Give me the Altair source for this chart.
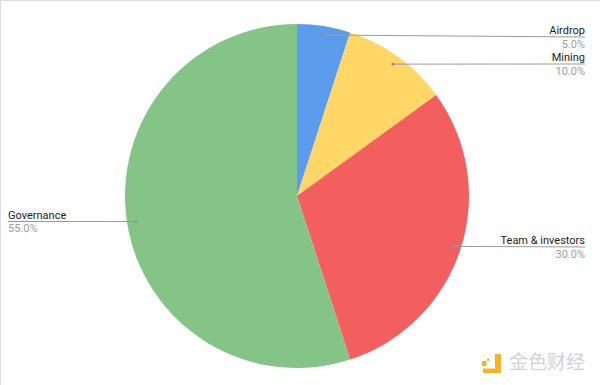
import math

import altair as alt
import pandas as pd

# ---- data -----------------------------------------------------------------
categories = ["Airdrop", "Mining", "Team & investors", "Governance"]
shares = [5.0, 10.0, 30.0, 55.0]

# ---- styling / layout -------------------------------------------------------
slice_colors = ["#5b9cec", "#ffd766", "#f35f5f", "#84c587"]
W, H = 600, 385
CX, CY, R = 297, 196, 172          # pie centre and radius (px)
ANCHOR_R = 163                      # where leader lines start inside a slice
label_side = ["right", "right", "right", "left"]
label_line_y = [37, 64, 247, 221.5]
RIGHT_X, LEFT_X = 585, 8

# leader-line anchors sit at the middle angle of each slice
rows = []
cum = 0.0
for i, (cat, v) in enumerate(zip(categories, shares)):
    mid = math.radians((cum + v / 2) / sum(shares) * 360)
    cum += v
    end_x = RIGHT_X if label_side[i] == "right" else LEFT_X
    rows.append(
        dict(
            idx=i,
            category=cat,
            share=v,
            pct=f"{v:.1f}%",
            side=label_side[i],
            ax=CX + ANCHOR_R * math.sin(mid),
            ay=CY - ANCHOR_R * math.cos(mid),
            ex=end_x,
            ey=label_line_y[i],
            name_y=label_line_y[i] - 3,
            pct_y=label_line_y[i] + 10.5,
        )
    )
df = pd.DataFrame(rows)

xs = alt.Scale(domain=[0, W], range=[0, W], nice=False, zero=False)
ys = alt.Scale(domain=[0, H], range=[0, H], nice=False, zero=False)

base = alt.Chart(df)

pie = base.mark_arc(radius=R, stroke=None).encode(
    theta=alt.Theta("share:Q", stack=True),
    color=alt.Color(
        "category:N",
        scale=alt.Scale(domain=categories, range=slice_colors),
        legend=None,
    ),
    order=alt.Order("idx:Q"),
    x=alt.value(CX),
    y=alt.value(CY),
)

leaders = base.mark_rule(color="#9a9a9a", strokeWidth=1).encode(
    x=alt.X("ax:Q", scale=xs, axis=None),
    y=alt.Y("ay:Q", scale=ys, axis=None),
    x2="ex:Q",
    y2="ey:Q",
)

dots = base.mark_point(filled=True, size=7, color="#8a8a8a", opacity=1).encode(
    x=alt.X("ax:Q", scale=xs, axis=None),
    y=alt.Y("ay:Q", scale=ys, axis=None),
)


def label_layers(side, align):
    sub = base.transform_filter(alt.datum.side == side)
    names = sub.mark_text(
        align=align, baseline="alphabetic", font="Roboto", fontSize=11, color="#222222"
    ).encode(
        x=alt.X("ex:Q", scale=xs, axis=None),
        y=alt.Y("name_y:Q", scale=ys, axis=None),
        text="category:N",
    )
    pcts = sub.mark_text(
        align=align, baseline="alphabetic", font="Roboto", fontSize=11, color="#9e9e9e"
    ).encode(
        x=alt.X("ex:Q", scale=xs, axis=None),
        y=alt.Y("pct_y:Q", scale=ys, axis=None),
        text="pct:N",
    )
    return names + pcts


# brand mark in the lower-right corner
logo_parts = pd.DataFrame(
    dict(
        x=[482, 487, 495, 483],
        x2=[486.5, 489.5, 501, 501],
        y=[361, 358.5, 354, 368.5],
        y2=[366, 361, 373, 373],
    )
)
logo = alt.Chart(logo_parts).mark_rect(color="#f4b42a").encode(
    x=alt.X("x:Q", scale=xs, axis=None),
    x2="x2:Q",
    y=alt.Y("y:Q", scale=ys, axis=None),
    y2="y2:Q",
)
brand = alt.Chart(pd.DataFrame(dict(t=["金色财经"], x=[509], y=[363]))).mark_text(
    align="left",
    baseline="middle",
    font="Noto Sans CJK SC",
    fontSize=19,
    color="#d2d2d2",
).encode(
    x=alt.X("x:Q", scale=xs, axis=None),
    y=alt.Y("y:Q", scale=ys, axis=None),
    text="t:N",
)

chart = (
    alt.layer(
        pie,
        leaders,
        dots,
        label_layers("right", "right"),
        label_layers("left", "left"),
        logo,
        brand,
    )
    .properties(width=W, height=H, padding=0, autosize=alt.AutoSizeParams(type="none"))
    .configure_view(stroke=None)
    .configure(background="white")
)

chart.save("out.html", embed_options={"renderer": "svg", "actions": False})
